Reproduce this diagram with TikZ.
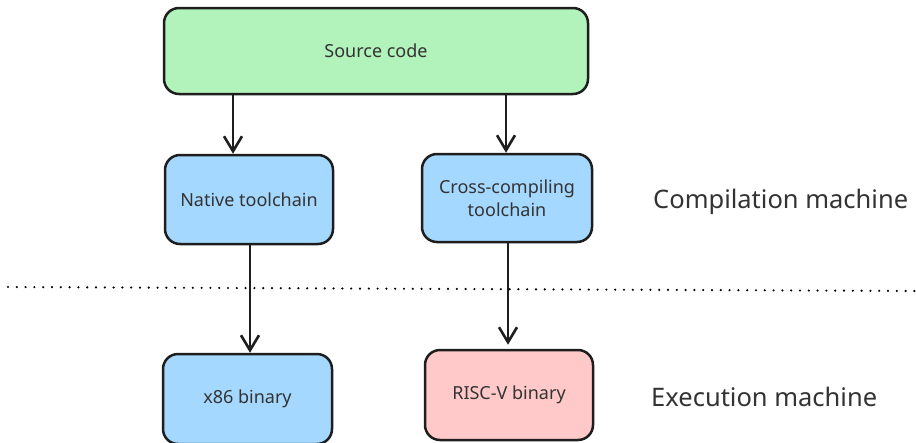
\documentclass[tikz,border=0pt]{standalone}
\usepackage{fontspec}
\setmainfont{Noto Sans}
\usetikzlibrary{arrows.meta}
\definecolor{stroke}{HTML}{1E1E1E}
\definecolor{txt}{HTML}{333333}
\definecolor{green}{HTML}{B2F2BB}
\definecolor{blue}{HTML}{A5D8FF}
\definecolor{pink}{HTML}{FFC9C9}
\tikzset{
  box/.style={draw=stroke, line width=2.5pt, rounded corners=15pt, align=center,
    text=txt, font=\fontsize{18}{23}\selectfont, inner sep=0pt},
  arr/.style={draw=stroke, line width=2.6pt, -{Straight Barb[length=15pt,width=18pt,line width=2.6pt]}},
  lbl/.style={text=txt, font=\fontsize{25.5}{30}\selectfont, inner sep=0pt},
}
\begin{document}
\begin{tikzpicture}[x=1pt,y=-1pt]
\useasboundingbox (0,0) rectangle (916,442);
\fill[white] (0,0) rectangle (916,442);
\node[box, fill=green, minimum width=424pt, minimum height=86pt] (src) at (376,51) {Source code};
\node[box, fill=blue, minimum width=168pt, minimum height=89pt] (nat) at (249,199.5) {Native toolchain};
\node[box, fill=blue, minimum width=170pt, minimum height=88pt] (cross) at (507,198) {Cross-compiling\\toolchain};
\node[box, fill=blue, minimum width=169pt, minimum height=90pt] (x86) at (247.5,399) {x86 binary};
\node[box, fill=pink, minimum width=168pt, minimum height=90pt] (risc) at (509,395) {RISC-V binary};
\node[lbl, anchor=west] (comp) at (653,202) {Compilation machine};
\node[lbl, anchor=west] (exec) at (651,397) {Execution machine};
\coordinate (a1) at (233,0);
\coordinate (a2) at (506,0);
\coordinate (a3) at (250,0);
\coordinate (a4) at (508,0);
\draw[arr] (a1 |- src.south) -- (a1 |- nat.north);
\draw[arr] (a2 |- src.south) -- (a2 |- cross.north);
\draw[arr] (a3 |- nat.south) -- (a3 |- x86.north);
\draw[arr] (a4 |- cross.south) -- ([yshift=4pt]a4 |- risc.north);
\coordinate (dl) at (8,287);
\coordinate (dr) at (916,291);
\draw[stroke, line width=2.4pt, line cap=round, dash pattern=on 0pt off 8.8pt] (dl) -- (dr);
\end{tikzpicture}
\end{document}
